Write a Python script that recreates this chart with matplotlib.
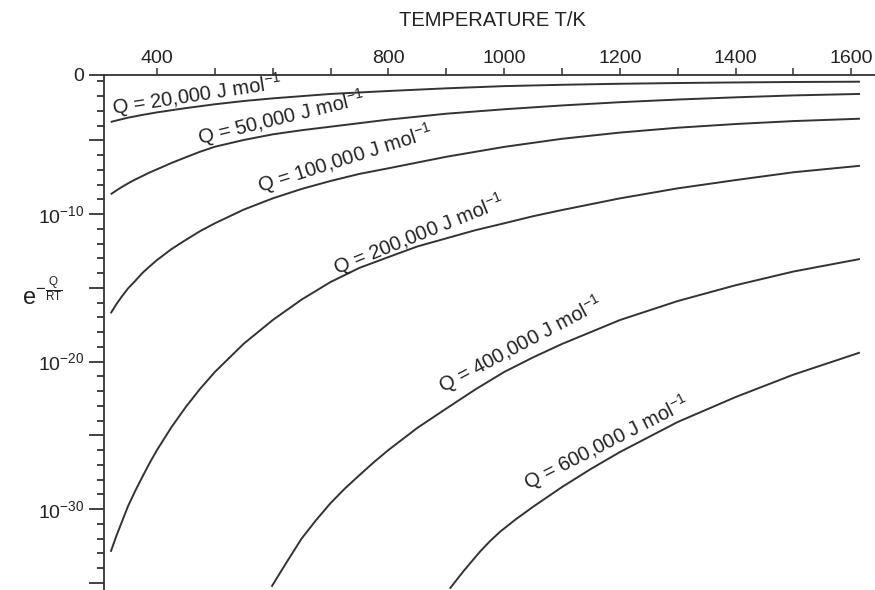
import matplotlib
matplotlib.use("Agg")
import matplotlib.pyplot as plt
from matplotlib.ticker import FixedLocator, FixedFormatter, NullFormatter

plt.rcParams["font.family"] = ["Liberation Sans", "DejaVu Sans"]
plt.rcParams["mathtext.fontset"] = "custom"
plt.rcParams["mathtext.rm"] = "Liberation Sans"
plt.rcParams["mathtext.it"] = "Liberation Sans"
plt.rcParams["mathtext.bf"] = "Liberation Sans:bold"
plt.rcParams["mathtext.default"] = "regular"

INK = "#333333"
TXT = "#222222"

# activation energies, J/mol
q_values = [20000, 50000, 100000, 200000, 400000, 600000]

# curves: temperature (K) and log10 of exp(-Q/RT)
temps_20k = [320, 335, 350, 375, 400, 450, 500, 550, 600, 700, 800, 900, 1000, 1100, 1200, 1300, 1400,
             1500, 1615]
log_20k = [-3.76, -3.61, -3.47, -3.28, -3.11, -2.82, -2.56, -2.34, -2.16, -1.86, -1.66, -1.48, -1.33, -1.24,
           -1.17, -1.12, -1.08, -1.05, -1.03]

temps_50k = [320, 335, 350, 362, 375, 387, 400, 425, 450, 475, 500, 550, 600, 650, 700, 800, 900, 1000,
             1100, 1200, 1300, 1400, 1500, 1615]
log_50k = [-8.66, -8.27, -7.92, -7.67, -7.42, -7.19, -6.97, -6.54, -6.15, -5.77, -5.44, -4.98, -4.60, -4.32,
           -4.08, -3.60, -3.20, -2.90, -2.64, -2.42, -2.24, -2.09, -1.96, -1.86]

temps_100k = [320, 330, 340, 350, 362, 375, 387, 400, 425, 450, 475, 500, 550, 600, 650, 700, 750, 800,
              900, 1000, 1100, 1200, 1300, 1400, 1500, 1615]
log_100k = [-16.73, -16.10, -15.55, -15.04, -14.55, -13.99, -13.56, -13.12, -12.38, -11.75, -11.15, -10.63,
            -9.70, -8.94, -8.30, -7.76, -7.28, -6.90, -6.12, -5.45, -4.90, -4.48, -4.15, -3.90, -3.70, -3.54]

temps_200k = [320, 330, 340, 350, 362, 375, 387, 400, 425, 450, 475, 500, 550, 600, 650, 700, 750, 800,
              850, 900, 950, 1000, 1050, 1100, 1200, 1300, 1400, 1500, 1615]
log_200k = [-32.90, -31.80, -30.80, -29.80, -28.80, -27.80, -26.90, -26.00, -24.45, -23.07, -21.83, -20.71,
            -18.79, -17.19, -15.80, -14.61, -13.65, -12.92, -12.20, -11.65, -11.10, -10.63, -10.15, -9.73,
            -8.94, -8.26, -7.70, -7.17, -6.73]

temps_400k = [598, 610, 625, 650, 675, 700, 725, 750, 775, 800, 850, 900, 950, 1000, 1050, 1100, 1200,
              1300, 1400, 1500, 1615]
log_400k = [-35.27, -34.50, -33.55, -32.00, -30.75, -29.60, -28.60, -27.70, -26.82, -26.00, -24.50, -23.19,
            -21.90, -20.71, -19.72, -18.81, -17.19, -15.90, -14.83, -13.90, -13.05]

temps_600k = [906, 918, 930, 958, 975, 993, 1020, 1050, 1100, 1150, 1200, 1300, 1400, 1500, 1615]
log_600k = [-35.40, -34.80, -34.20, -32.90, -32.20, -31.54, -30.70, -29.85, -28.51, -27.28, -26.14, -24.10,
            -22.41, -20.89, -19.39]

x_ticks = [400, 500, 600, 700, 800, 900, 1000, 1100, 1200, 1300, 1400, 1500, 1600]
x_tick_labels = ["400", "", "", "", "800", "", "1000", "", "1200", "", "1400", "", "1600"]
y_top = -0.576
y_major = [y_top, -5, -10, -15, -20, -25, -30, -35]
y_major_labels = ["0", "", "$10^{-10}$", "", "$10^{-20}$", "", "$10^{-30}$", ""]

curves = [
    (temps_20k, log_20k),
    (temps_50k, log_50k),
    (temps_100k, log_100k),
    (temps_200k, log_200k),
    (temps_400k, log_400k),
    (temps_600k, log_600k),
]
# baseline start (T, log10) and screen angle of each curve label
label_spots = [(324, -3.29, 8.7), (473, -5.32, 13.7), (578, -8.58, 17.6),
               (711, -14.14, 22.0), (894, -22.14, 28.0), (1041, -28.75, 27.0)]

fig = plt.figure(figsize=(8.75, 5.9), dpi=100)
ax = fig.add_axes([104 / 875, 0.0, 1 - 104 / 875, 1 - 75 / 590])

for (temps, logs), q, (tx, ty, rot) in zip(curves, q_values, label_spots):
    ax.plot(temps, logs, color=INK, lw=1.4, solid_capstyle="butt", solid_joinstyle="round")
    ax.text(tx, ty, f"Q = {q:,} J mol$^{{-1}}$", fontsize=14.5, color=TXT,
            rotation=rot, rotation_mode="anchor", ha="left", va="baseline")

ax.set_xlim(308.4, 1641)
ax.set_ylim(-35.49, y_top)

for side in ("right", "bottom"):
    ax.spines[side].set_visible(False)
for side in ("left", "top"):
    ax.spines[side].set_color(INK)
    ax.spines[side].set_linewidth(1.3)

ax.xaxis.tick_top()
ax.xaxis.set_major_locator(FixedLocator(x_ticks))
ax.xaxis.set_major_formatter(FixedFormatter(x_tick_labels))
ax.tick_params(axis="x", direction="out", length=5, width=1.1, color=INK,
               labelsize=14, labelcolor=TXT, pad=1)

ax.yaxis.set_major_locator(FixedLocator(y_major))
ax.yaxis.set_major_formatter(FixedFormatter(y_major_labels))
ax.yaxis.set_minor_locator(FixedLocator([-k for k in range(1, 36) if k % 5 != 0]))
ax.yaxis.set_minor_formatter(NullFormatter())
ax.tick_params(axis="y", which="major", direction="out", length=11, width=1.3, color=INK,
               labelsize=14, labelcolor=TXT, pad=3)
ax.tick_params(axis="y", which="minor", direction="out", length=5, width=1.3, color=INK)

fig.text(492 / 875, 1 - 21 / 590, "TEMPERATURE T/K", fontsize=14.5, color=TXT,
         ha="center", va="center")
fig.text(22 / 875, 1 - 293 / 590, r"$e^{-\frac{Q}{RT}}$", fontsize=17, color=TXT,
         ha="left", va="center")

fig.savefig("out.png", dpi=100)
